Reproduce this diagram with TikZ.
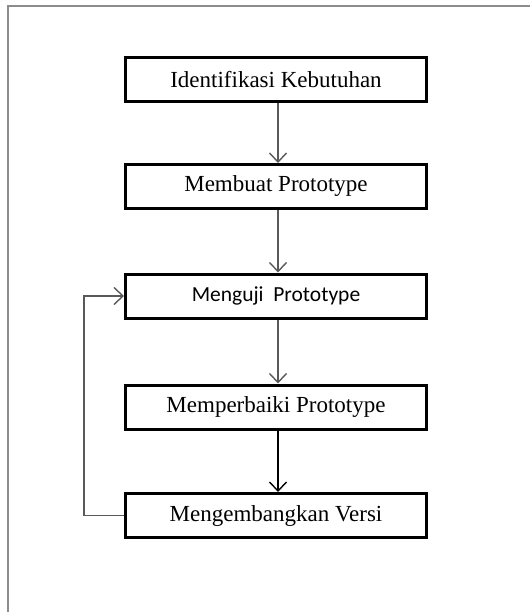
\documentclass[tikz,border=0pt]{standalone}
\usepackage{fontspec}
\setmainfont{Liberation Serif}
\newfontfamily\calib{Carlito}
\usetikzlibrary{arrows.meta}
\begin{document}
\begin{tikzpicture}[x=1pt,y=-1pt,
  stepbox/.style={draw=black, line width=3pt, minimum width=301pt, minimum height=44pt, inner sep=0pt, font=\fontsize{23}{27}\selectfont},
  conn/.style={draw=black!65, line width=1.4pt, -{Straight Barb[length=9pt,width=17pt,line width=1.4pt]}},
  framestyle/.style={draw=black!45, line width=2pt}]
\useasboundingbox (0,0) rectangle (530,612);
\draw[framestyle] (8,612) -- (8,6) -- (530,6);
\node[stepbox] (a) at (276,79.5) {Identifikasi Kebutuhan};
\node[stepbox] (b) at (276,186.5) {Membuat Prototype};
\node[stepbox, font=\calib\fontsize{21.5}{26}\selectfont] (c) at (276,296) {Menguji\ \ Prototype};
\node[stepbox] (d) at (276,407) {Memperbaiki Prototype};
\node[stepbox] (e) at (276,515.5) {Mengembangkan Versi};
\draw[conn] (a.south -| 278,0) -- (b.north -| 278,0);
\draw[conn] (b.south -| 278,0) -- (c.north -| 278,0);
\draw[conn] (c.south -| 278,0) -- (d.north -| 278,0);
\draw[conn, draw=black] (d.south -| 278,0) -- (e.north -| 278,0);
\coordinate (loop) at (84,515.5);
\draw[conn] (e.west) -- (loop) |- (c.west);
\end{tikzpicture}
\end{document}
